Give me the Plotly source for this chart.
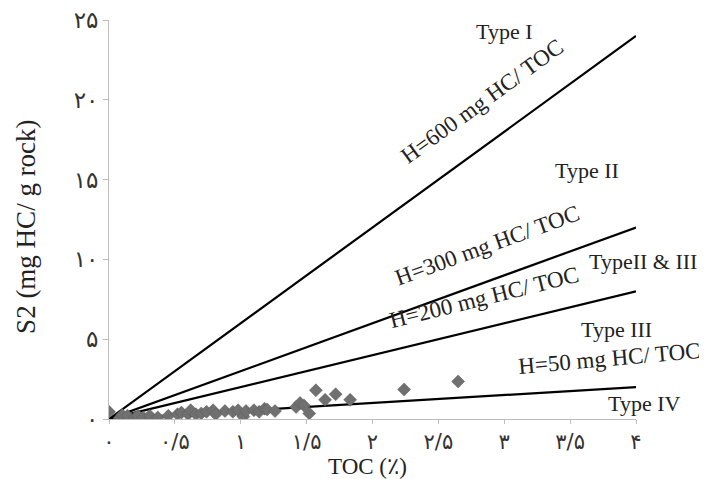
import plotly.graph_objects as go

# Sample data (TOC %, S2 mg HC/g rock)
toc = [0.0, 0.08, 0.1, 0.14, 0.2, 0.22, 0.26, 0.31, 0.37, 0.45, 0.52, 0.55, 0.6, 0.62,
       0.66, 0.7, 0.74, 0.79, 0.81, 0.88, 0.94, 0.98, 1.02, 1.04, 1.1, 1.14, 1.18, 1.2,
       1.26, 1.42, 1.45, 1.48, 1.52, 1.57, 1.64, 1.72, 1.83, 2.24, 2.65]
s2 = [0.45, 0.05, 0.25, 0.2, 0.1, 0.2, 0.1, 0.2, 0.1, 0.2, 0.3, 0.4, 0.3, 0.55,
      0.3, 0.35, 0.45, 0.55, 0.3, 0.5, 0.45, 0.55, 0.15, 0.5, 0.55, 0.45, 0.65, 0.6,
      0.5, 0.75, 1.0, 0.85, 0.35, 1.8, 1.2, 1.55, 1.2, 1.85, 2.35]

# HI reference lines (mg HC / g TOC)
hi_values = [600, 300, 200, 50]
hi_labels = ["H=600 mg HC/ TOC", "H=300 mg HC/ TOC", "H=200 mg HC/ TOC", "H=50 mg HC/ TOC"]
line_x = [0, 4]

x_tickvals = [0, 0.5, 1, 1.5, 2, 2.5, 3, 3.5, 4]
x_ticktext = ["۰", "۰/۵", "۱", "۱/۵", "۲", "۲/۵", "۳", "۳/۵", "۴"]
y_tickvals = [0, 5, 10, 15, 20, 25]
y_ticktext = ["۰", "۵", "۱۰", "۱۵", "۲۰", "۲۵"]

x_title = "TOC (٪)"
y_title = "S2 (mg HC/ g rock)"

type_labels = ["Type I", "Type II", "TypeII & III", "Type III", "Type IV"]
type_x = [3.0, 3.63, 4.05, 3.85, 4.06]
type_y = [24.3, 15.6, 9.9, 5.6, 1.0]

hi_label_x = [2.83, 2.87, 2.85, 3.8]
hi_label_y = [19.9, 10.9, 7.6, 3.8]
hi_label_angle = [-36, -20, -14, -5]

X_MAX = 4
FONT = "Liberation Serif, DejaVu Serif, DejaVu Sans, serif"
TICKFONT = "DejaVu Sans, sans-serif"

fig = go.Figure()
for hi in hi_values:
    fig.add_trace(go.Scatter(x=line_x, y=[v * hi / 100 for v in line_x], mode="lines",
                             line=dict(color="black", width=2.2), showlegend=False,
                             hoverinfo="skip"))
fig.add_trace(go.Scatter(x=toc, y=s2, mode="markers",
                         marker=dict(symbol="diamond", size=10, color="#707070",
                                     line=dict(color="#5a5a5a", width=0.5)),
                         showlegend=False))

for t, x, y in zip(type_labels, type_x, type_y):
    fig.add_annotation(x=x / X_MAX, xref="paper", y=y, text=t, showarrow=False,
                       xanchor="center", yanchor="middle",
                       font=dict(family=FONT, size=22, color="#222"))
for t, x, y, a in zip(hi_labels, hi_label_x, hi_label_y, hi_label_angle):
    fig.add_annotation(x=x / X_MAX, xref="paper", y=y, text=t, showarrow=False,
                       xanchor="center", yanchor="middle", textangle=a,
                       font=dict(family=FONT, size=23, color="#222"))

# axis titles
fig.add_annotation(x=0.49, y=-0.118, xref="paper", yref="paper", text=x_title,
                   showarrow=False, xanchor="center", yanchor="middle",
                   font=dict(family=FONT, size=23, color="#222"))
fig.add_annotation(x=-0.159, y=0.482, xref="paper", yref="paper", text=y_title,
                   showarrow=False, xanchor="center", yanchor="middle", textangle=-90,
                   font=dict(family=FONT, size=27, color="#222"))

fig.update_layout(
    width=699, height=471,
    margin=dict(l=101, r=71, t=12, b=60),
    plot_bgcolor="white", paper_bgcolor="white",
    font=dict(family=FONT, size=22, color="#222"),
    xaxis=dict(range=[0, X_MAX], tickvals=x_tickvals, ticktext=x_ticktext,
               showgrid=False, zeroline=False, showline=True, linecolor="#bdbdbd",
               linewidth=1, ticks="outside", ticklen=4, tickcolor="#bdbdbd",
               automargin=False, ticklabeloverflow="allow",
               tickfont=dict(family=TICKFONT, size=21, color="#333")),
    yaxis=dict(range=[0, 25], tickvals=y_tickvals, ticktext=y_ticktext,
               showgrid=False, zeroline=False, showline=True, linecolor="#bdbdbd",
               linewidth=1, ticks="outside", ticklen=5, tickcolor="#bdbdbd",
               automargin=False, ticklabeloverflow="allow",
               tickfont=dict(family=TICKFONT, size=23, color="#333")),
)

fig.write_html("out.html")
